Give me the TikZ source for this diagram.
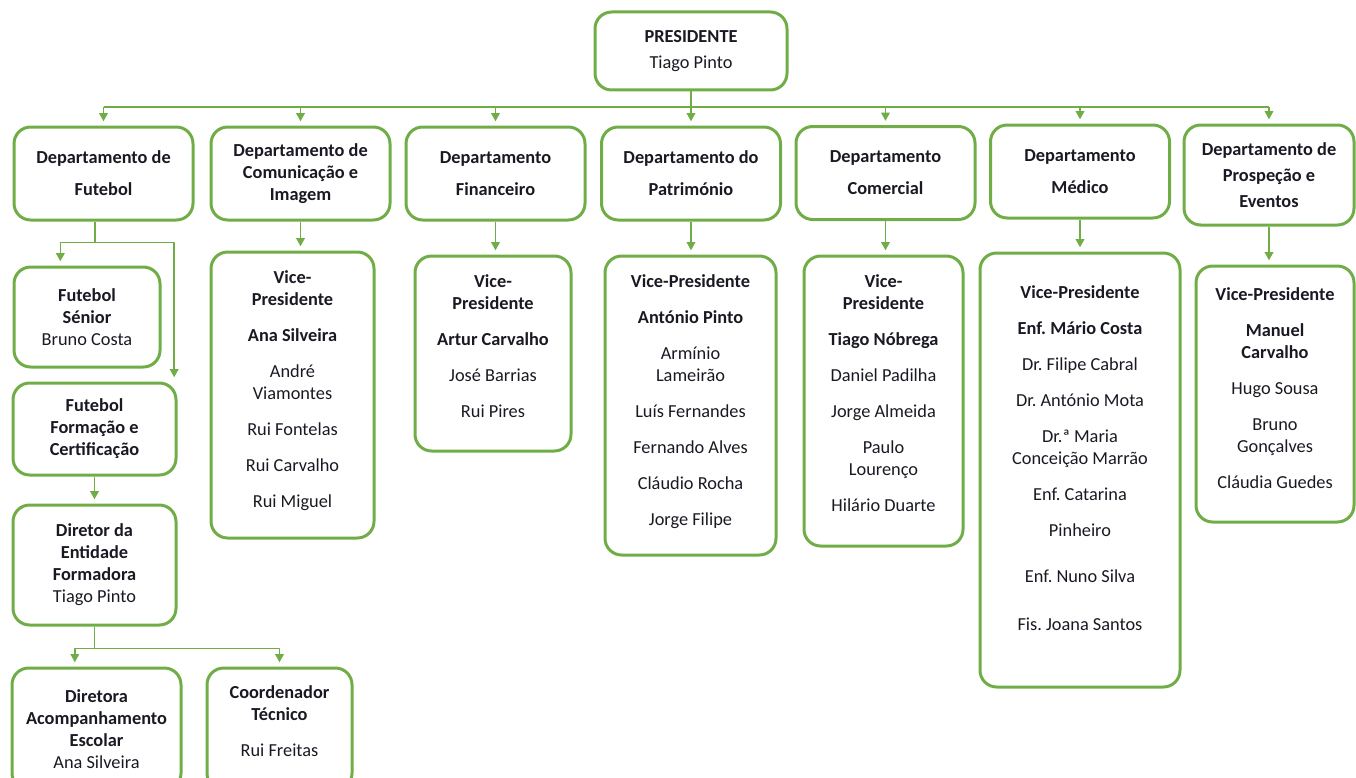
\documentclass[tikz,border=0pt]{standalone}
\usepackage{fontspec}
\setmainfont{Carlito}
\usetikzlibrary{arrows.meta}
\definecolor{orggreen}{RGB}{112,173,71}
\definecolor{orgtext}{RGB}{25,25,35}
\newcommand\orgfont{\fontsize{11}{13.2}\selectfont\frenchspacing}

\begin{document}
\begin{tikzpicture}[x=0.6pt, y=-0.6pt, line join=round, >={Triangle[width=5.2pt,length=5pt]},
  orgbox/.style={draw=orggreen, line width=1.8pt, rounded corners=10pt, align=center, text=orgtext, inner sep=2pt, font=\orgfont},
  dept/.style={orgbox, font=\orgfont\bfseries, minimum width=107.4pt, minimum height=55.8pt},
  conn/.style={draw=orggreen, line width=1pt},
  arr/.style={conn, ->, shorten >=2.5pt}]
  \def\gap{8.4pt}
  \useasboundingbox (0,0) rectangle (1356,778);

  % top
  \node[orgbox, font=\orgfont\bfseries, minimum width=115.2pt, minimum height=46.8pt] (pres) at (691,51) {PRESIDENTE\\[2.4pt]\mdseries Tiago Pinto};

  % departments
  \node[dept] (fut) at (103.5,173.5) {Departamento de\\[6pt]Futebol};
  \node[dept] (com) at (300.5,173.5) {Departamento de\\Comunicação e\\Imagem};
  \node[dept] (fin) at (495.5,173.5) {Departamento\\[6pt]Financeiro};
  \node[dept] (pat) at (691,173.5) {Departamento do\\[6pt]Património};
  \node[dept] (cml) at (885.5,173) {Departamento\\[6pt]Comercial};
  \node[dept] (med) at (1080,171.5) {Departamento\\[6pt]Médico};
  \node[dept, minimum width=102pt, minimum height=60pt] (pro) at (1269,175) {Departamento de\\[2.4pt]Prospeção e\\[2.4pt]Eventos};

  % futebol
  \node[orgbox, minimum width=87.6pt, minimum height=60pt] (sen) at (87,317) {\textbf{Futebol}\\\textbf{Sénior}\\Bruno Costa};
  \node[orgbox, font=\orgfont\bfseries, minimum width=97.8pt, minimum height=55.2pt] (frm) at (94.5,429) {Futebol\\Formação e\\Certificação};
  \node[orgbox, minimum width=97.8pt, minimum height=72pt] (dir) at (94.5,565) {\textbf{Diretor da}\\\textbf{Entidade}\\\textbf{Formadora}\\Tiago Pinto};
  \node[orgbox, minimum width=101.4pt, minimum height=73.2pt] (dra) at (96.5,729) {\textbf{Diretora}\\\textbf{Acompanhamento}\\\textbf{Escolar}\\Ana Silveira};
  \node[orgbox, minimum width=87pt, minimum height=73.2pt, text depth=10pt] (crd) at (279.5,729) {\textbf{Coordenador}\\\textbf{Técnico}\\[\gap]Rui Freitas};

  % vice-presidents
  \node[orgbox, minimum width=97.8pt, minimum height=171.6pt, text depth=7pt] (vcom) at (292.5,395) {\textbf{Vice-}\\\textbf{Presidente}\\[\gap]\textbf{Ana Silveira}\\[\gap]André\\Viamontes\\[\gap]Rui Fontelas\\[\gap]Rui Carvalho\\[\gap]Rui Miguel};
  \node[orgbox, minimum width=93.6pt, minimum height=117pt, text depth=9.4pt] (vfin) at (493,353.5) {\textbf{Vice-}\\\textbf{Presidente}\\[\gap]\textbf{Artur Carvalho}\\[\gap]José Barrias\\[\gap]Rui Pires};
  \node[orgbox, minimum width=102.6pt, minimum height=179.4pt, text depth=7pt] (vpat) at (690.5,405.5) {\textbf{Vice-Presidente}\\[\gap]\textbf{António Pinto}\\[\gap]Armínio\\Lameirão\\[\gap]Luís Fernandes\\[\gap]Fernando Alves\\[\gap]Cláudio Rocha\\[\gap]Jorge Filipe};
  \node[orgbox, minimum width=95.4pt, minimum height=174pt, text depth=10pt] (vcml) at (883.5,401) {\textbf{Vice-}\\\textbf{Presidente}\\[\gap]\textbf{Tiago Nóbrega}\\[\gap]Daniel Padilha\\[\gap]Jorge Almeida\\[\gap]Paulo\\Lourenço\\[\gap]Hilário Duarte};
  \node[orgbox, minimum width=120pt, minimum height=260.4pt, text depth=14pt] (vmed) at (1080,470) {\textbf{Vice-Presidente}\\[\gap]\textbf{Enf. Mário Costa}\\[\gap]Dr. Filipe Cabral\\[\gap]Dr. António Mota\\[\gap]Dr.ª Maria\\Conceição Marrão\\[\gap]Enf. Catarina\\[\gap]Pinheiro\\[14.4pt]Enf. Nuno Silva\\[15.6pt]Fis. Joana Santos};
  \node[orgbox, minimum width=94.8pt, minimum height=153.6pt, text depth=7.5pt] (vpro) at (1275,394) {\textbf{Vice-Presidente}\\[\gap]\textbf{Manuel}\\\textbf{Carvalho}\\[\gap]Hugo Sousa\\[\gap]Bruno\\Gonçalves\\[\gap]Cláudia Guedes};

  % connectors
  \coordinate (bus) at (0,107);
  \draw[conn] (pres.south) -- (pres.south |- bus);
  \draw[conn] (fut.north |- bus) -- (pro.north |- bus);
  \foreach \d in {fut,com,fin,pat,cml,med,pro}
    \draw[arr] (\d.north |- bus) -- (\d.north);
  \foreach \d/\v in {com/vcom,fin/vfin,pat/vpat,cml/vcml,med/vmed,pro/vpro}
    \draw[arr] (\d.south) -- (\d.south |- \v.north);

  \draw[conn] ([xshift=-5pt]fut.south) -- ++(0,21) coordinate (fsplit);
  \draw[arr] (fsplit) -| ([xshift=-16pt]sen.north);
  \draw[arr] (fsplit) -| ([xshift=-2pt]frm.north east);
  \draw[arr] (frm.south) -- (dir.north);
  \draw[conn] (dir.south) -- ++(0,22) coordinate (dsplit);
  \draw[arr] (dsplit) -| ([xshift=-13pt]dra.north);
  \draw[arr] (dsplit) -| (crd.north);
\end{tikzpicture}
\end{document}
